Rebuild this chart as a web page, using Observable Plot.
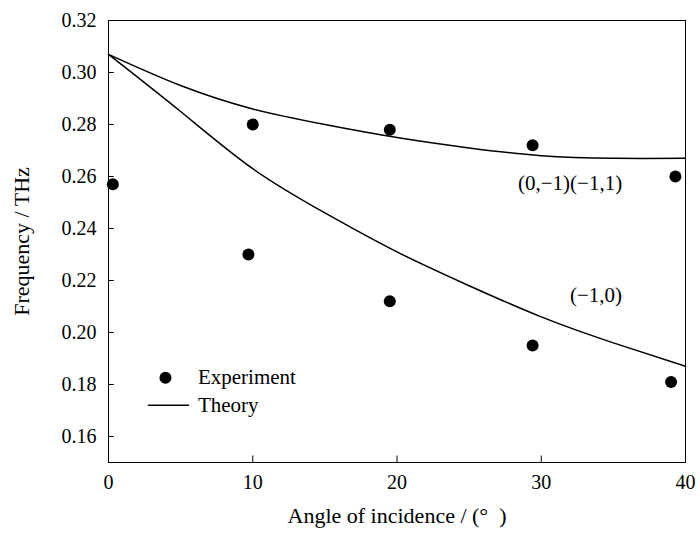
<!DOCTYPE html>
<html><head>
<script src="https://cdn.jsdelivr.net/npm/d3@7"></script>
<script src="https://cdn.jsdelivr.net/npm/@observablehq/plot@0.6"></script>
<style>body{margin:0;background:#fff} svg text{font-family:"Liberation Serif","Times New Roman",serif !important}</style>
</head><body><div id="c"></div>
<script>
const expAngle = [0.3, 9.7, 10, 19.5, 19.5, 29.4, 29.4, 39, 39.3];
const expFreq  = [0.257, 0.230, 0.280, 0.278, 0.212, 0.272, 0.195, 0.181, 0.260];
const thAngle  = [0, 5, 10, 15, 20, 25, 30, 35, 40];
const thUpper  = [0.307, 0.295, 0.286, 0.280, 0.275, 0.271, 0.268, 0.267, 0.267];
const thLower  = [0.307, 0.285, 0.263, 0.246, 0.231, 0.218, 0.206, 0.196, 0.187];
const xTicks = [0, 10, 20, 30, 40];
const yTicks = [0.16, 0.18, 0.20, 0.22, 0.24, 0.26, 0.28, 0.30, 0.32];

const pts = expAngle.map((a, i) => ({a, f: expFreq[i]}));
const up = thAngle.map((a, i) => ({a, f: thUpper[i]}));
const lo = thAngle.map((a, i) => ({a, f: thLower[i]}));
const font = "Liberation Serif, Times New Roman, serif";

const chart = Plot.plot({
  width: 700, height: 544,
  marginLeft: 108, marginRight: 15, marginTop: 20, marginBottom: 82,
  style: {fontFamily: font, fontSize: "20px", color: "#000", background: "#fff"},
  x: {domain: [0, 40]},
  y: {domain: [0.15, 0.32]},
  marks: [
    Plot.frame({stroke: "#000", strokeWidth: 1}),
    Plot.axisX({ticks: xTicks, tickSize: 0, tickPadding: 12, fontSize: 20, label: null}),
    Plot.axisY({ticks: yTicks, tickSize: 0, tickPadding: 12, fontSize: 20, tickFormat: d3.format(".2f"), label: null}),
    Plot.axisX({ticks: [], label: "Angle of incidence / (°  )", labelAnchor: "center", labelArrow: "none", labelOffset: 60, fontSize: 22}),
    Plot.axisY({ticks: [], label: "Frequency / THz", labelAnchor: "center", labelArrow: "none", labelOffset: 95, fontSize: 22}),
    Plot.ruleX(xTicks, {x: d => d, y1: 0.15, y2: 0.1525, stroke: "#000"}),
    Plot.ruleY(yTicks, {y: d => d, x1: 0, x2: 0.4, stroke: "#000"}),
    Plot.line(up, {x: "a", y: "f", curve: "natural", stroke: "#000", strokeWidth: 1.5}),
    Plot.line(lo, {x: "a", y: "f", curve: "natural", stroke: "#000", strokeWidth: 1.5}),
    Plot.dot(pts, {x: "a", y: "f", r: 6, fill: "#000"}),
    Plot.text(["(0,−1)(−1,1)"], {x: 32, y: 0.2574, fontSize: 21}),
    Plot.text(["(−1,0)"], {x: 33.8, y: 0.2144, fontSize: 21}),
    Plot.dot([{a: 3.95, f: 0.1826}], {x: "a", y: "f", r: 6, fill: "#000"}),
    Plot.line([{a: 2.77, f: 0.172}, {a: 5.55, f: 0.172}], {x: "a", y: "f", stroke: "#000", strokeWidth: 1.5}),
    Plot.text(["Experiment"], {x: 6.2, y: 0.1826, textAnchor: "start", fontSize: 21}),
    Plot.text(["Theory"], {x: 6.2, y: 0.172, textAnchor: "start", fontSize: 21})
  ]
});
document.getElementById("c").append(chart);
</script></body></html>
